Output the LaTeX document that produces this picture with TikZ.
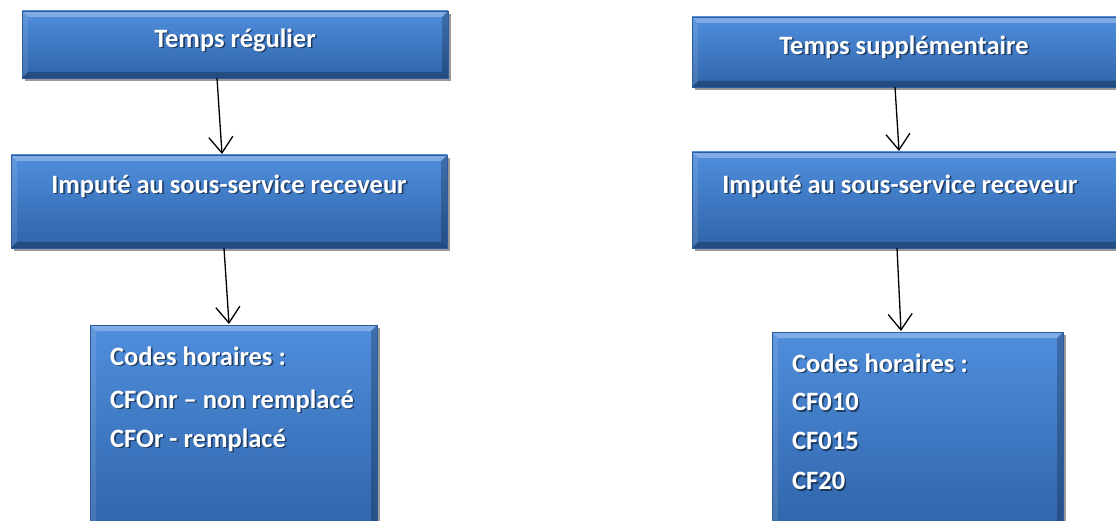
\documentclass[tikz,border=0pt]{standalone}
\usepackage{fontspec}
\setmainfont{Carlito}
\usetikzlibrary{arrows.meta,shadows}
\definecolor{boxtop}{RGB}{80,142,220}
\definecolor{boxbot}{RGB}{46,100,170}
\definecolor{boxedge}{RGB}{44,90,155}
\tikzset{
  bevel/.style={path picture={
    \coordinate (nw) at (path picture bounding box.north west);
    \coordinate (ne) at (path picture bounding box.north east);
    \coordinate (sw) at (path picture bounding box.south west);
    \coordinate (se) at (path picture bounding box.south east);
    \fill[white,opacity=0.28] (nw) -- (ne) -- ([xshift=-6pt,yshift=-6pt]ne) -- ([xshift=6pt,yshift=-6pt]nw) -- cycle;
    \fill[black,opacity=0.22] (ne) -- (se) -- ([xshift=-6pt,yshift=6pt]se) -- ([xshift=-6pt,yshift=-6pt]ne) -- cycle;
    \fill[black,opacity=0.25] (se) -- (sw) -- ([xshift=6pt,yshift=6pt]sw) -- ([xshift=-6pt,yshift=6pt]se) -- cycle;
    \fill[white,opacity=0.10] (sw) -- (nw) -- ([xshift=6pt,yshift=-6pt]nw) -- ([xshift=6pt,yshift=6pt]sw) -- cycle;
  }},
  bluebox/.style={rectangle, anchor=north west, inner sep=0pt, outer sep=0pt,
    top color=boxtop, bottom color=boxbot, draw=boxedge, line width=0.5pt, bevel,
    drop shadow={shadow xshift=3pt, shadow yshift=-3pt, opacity=0.4, fill=black}},
  lbl/.style={text=white, font=\bfseries\fontsize{26.5}{30}\selectfont, inner sep=0pt},
  lblshadow/.style={text=black, text opacity=0.5, font=\bfseries\fontsize{26.5}{30}\selectfont, inner sep=0pt},
  flow/.style={draw=black, line width=1.3pt, -{Straight Barb[length=16pt,width=24pt,line width=1.3pt]}}
}
\begin{document}
\begin{tikzpicture}[x=1pt,y=-1pt]
\useasboundingbox (0,0) rectangle (1116,521);
\clip (0,0) rectangle (1116,521);
% boxes
\node[bluebox, minimum width=426pt, minimum height=67pt] (b1) at (22,11) {};
\node[bluebox, minimum width=436pt, minimum height=93pt] (b2) at (11,155) {};
\node[bluebox, minimum width=287pt, minimum height=210pt] (b3) at (90,325) {};
\node[bluebox, minimum width=433pt, minimum height=70pt] (b4) at (692,17) {};
\node[bluebox, minimum width=433pt, minimum height=96pt] (b5) at (692,152) {};
\node[bluebox, minimum width=291pt, minimum height=200pt] (b6) at (772,332) {};
% texts (shadow then white)
\foreach \nm/\x/\y/\t in {t1/235/40/{Temps régulier}, t2/229/186/{Imputé au sous-service receveur}, t4/904/47/{Temps supplémentaire}, t5/900/186/{Imputé au sous-service receveur}}{
  \node[lblshadow] at (\x+1.6,\y+1.6) {\t};
  \node[lbl] (\nm) at (\x,\y) {\t};
}
\foreach \nm/\y/\t in {c1/356/{Codes horaires :}, c2/401/{CFOnr – non remplacé}, c3/440/{CFOr - remplacé}}{
  \node[lblshadow, anchor=west] at (111.6,\y+1.6) {\t};
  \node[lbl, anchor=west] (\nm) at (110,\y) {\t};
}
\foreach \nm/\y/\t in {d1/363/{Codes horaires :}, d2/402/{CF010}, d3/441/{CF015}, d4/481/{CF20}}{
  \node[lblshadow, anchor=west] at (793.6,\y+1.6) {\t};
  \node[lbl, anchor=west] (\nm) at (792,\y) {\t};
}
% arrows
\draw[flow] ([xshift=-18pt]b1.south) -- ([xshift=-7pt,yshift=1pt]b2.north);
\draw[flow] ([xshift=-5pt]b2.south) -- ([xshift=-4.5pt,yshift=1pt]b3.north);
\draw[flow] ([xshift=-13.5pt]b4.south) -- ([xshift=-9.5pt,yshift=1pt]b5.north);
\draw[flow] ([xshift=-11.5pt]b5.south) -- ([xshift=-16.5pt,yshift=1pt]b6.north);
\end{tikzpicture}
\end{document}
